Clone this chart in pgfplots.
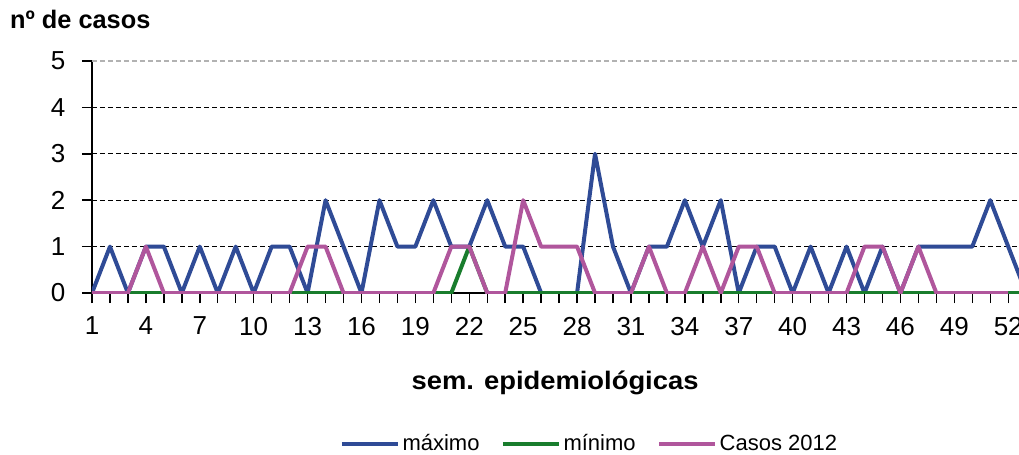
\documentclass[border=0pt]{standalone}
\usepackage{pgfplots}
\pgfplotsset{compat=1.18}
\usepackage{graphicx}
\usepackage{fontspec}
\setmainfont{Liberation Sans}

\definecolor{maxblue}{RGB}{47,75,150}
\definecolor{mingreen}{RGB}{25,125,45}
\definecolor{casmag}{RGB}{176,86,156}

% semana, maximo, minimo
\pgfplotstableread{
sem max min
1 0 0
2 1 0
3 0 0
4 1 0
5 1 0
6 0 0
7 1 0
8 0 0
9 1 0
10 0 0
11 1 0
12 1 0
13 0 0
14 2 0
15 1 0
16 0 0
17 2 0
18 1 0
19 1 0
20 2 0
21 1 0
22 1 1
23 2 0
24 1 0
25 1 0
26 0 0
27 0 0
28 0 0
29 3 0
30 1 0
31 0 0
32 1 0
33 1 0
34 2 0
35 1 0
36 2 0
37 0 0
38 1 0
39 1 0
40 0 0
41 1 0
42 0 0
43 1 0
44 0 0
45 1 0
46 0 0
47 1 0
48 1 0
49 1 0
50 1 0
51 2 0
52 1 0
53 0 0
}\hist

% casos 2012
\pgfplotstableread{
sem casos
1 0
2 0
3 0
4 1
5 0
6 0
7 0
8 0
9 0
10 0
11 0
12 0
13 1
14 1
15 0
16 0
17 0
18 0
19 0
20 0
21 1
22 1
23 0
24 0
25 2
26 1
27 1
28 1
29 0
30 0
31 0
32 1
33 0
34 0
35 1
36 0
37 1
38 1
39 0
40 0
41 0
42 0
43 0
44 1
45 1
46 0
47 1
48 0
49 0
50 0
51 0
52 0
}\casos

\begin{document}
\begin{tikzpicture}
\useasboundingbox (-69pt,-120.75pt) rectangle (695.25pt,219.75pt);
\begin{axis}[
    at={(0,0)}, anchor=south west,
    scale only axis,
    width=695.25pt, height=174pt,
    xmin=1, xmax=52.6,
    ymin=0, ymax=5,
    axis x line*=bottom, axis y line*=left,
    axis line style={-, black, line width=1.1pt},
    xtick={1,4,...,52},
    minor xtick={1,...,53},
    ytick={0,...,4},
    extra y ticks={5},
    extra y tick style={grid style={gray!60, dash pattern=on 4pt off 2pt, line width=0.9pt}},
    tick align=outside,
    major tick length=7.5pt, minor tick length=7.5pt,
    every tick/.style={black, line width=1.1pt},
    ymajorgrids=true,
    grid style={black, dash pattern=on 4pt off 2pt, line width=0.9pt},
    tick label style={font=\fontsize{19.5pt}{22pt}\selectfont},
    xticklabel style={yshift=-7pt},
    yticklabel style={xshift=-9pt},
    /pgf/number format/assume math mode=true,
    clip mode=individual,
    legend columns=3,
    legend style={draw=none, at={(0.537,-0.65)}, anchor=center,
        font=\fontsize{16.5pt}{19pt}\selectfont,
        /tikz/every even column/.append style={column sep=14pt}},
    legend image code/.code={\draw[#1] (0pt,0pt) -- (42pt,0pt);},
]
\addplot[maxblue, line width=3pt, line join=round] table[x=sem, y=max] {\hist};
\addlegendentry{máximo}
\addplot[mingreen, line width=3pt, line join=round] table[x=sem, y=min] {\hist};
\addlegendentry{mínimo}
\addplot[casmag, line width=3pt, line join=round] table[x=sem, y=casos] {\casos};
\addlegendentry{Casos 2012}

\node[anchor=base west, inner sep=0pt, font=\bfseries\fontsize{19pt}{22pt}\selectfont]
    at (rel axis cs:-0.0885,1.138) {nº de casos};
\node[anchor=base, font=\bfseries\fontsize{19pt}{22pt}\selectfont]
    at (rel axis cs:0.4995,-0.418) {\scalebox{1.08}[1]{sem. epidemiológicas}};
\end{axis}
\end{tikzpicture}
\end{document}
